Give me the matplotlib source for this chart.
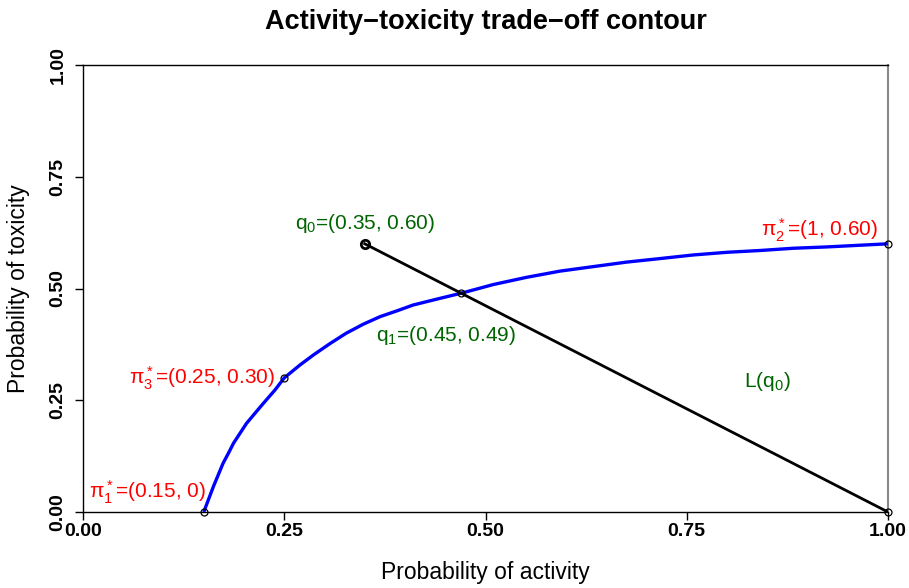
import matplotlib
matplotlib.use("Agg")
import matplotlib.pyplot as plt

plt.rcParams['font.family'] = ['Liberation Sans', 'DejaVu Sans']
plt.rcParams['mathtext.fontset'] = 'custom'
plt.rcParams['mathtext.rm'] = 'Liberation Sans'
plt.rcParams['mathtext.it'] = 'Liberation Sans'
plt.rcParams['mathtext.bf'] = 'Liberation Sans:bold'

# contour points
contour_x = [0.15, 0.162, 0.168, 0.174, 0.1805, 0.187, 0.195, 0.203, 0.2137, 0.224,
             0.2385, 0.25, 0.2696, 0.286, 0.307, 0.327, 0.348, 0.369, 0.390, 0.41,
             0.439, 0.471, 0.51, 0.551, 0.593, 0.634, 0.675, 0.717, 0.758, 0.80,
             0.841, 0.882, 0.924, 1.0]
contour_y = [0.0, 0.057, 0.083, 0.109, 0.131, 0.154, 0.176, 0.198, 0.221, 0.243,
             0.273, 0.30, 0.329, 0.351, 0.377, 0.400, 0.420, 0.437, 0.450, 0.463,
             0.476, 0.490, 0.509, 0.525, 0.539, 0.549, 0.559, 0.567, 0.575, 0.581,
             0.585, 0.590, 0.593, 0.60]

# design points
pi_x = [0.15, 1.0, 0.25]
pi_y = [0.0, 0.60, 0.30]
pi_labels = [r'$\pi_1^*$=(0.15, 0)', r'$\pi_2^*$=(1, 0.60)', r'$\pi_3^*$=(0.25, 0.30)']

q0 = (0.35, 0.60)
q1 = (0.47, 0.49)
line_end = (1.0, 0.0)
q0_label = r'q$_0$=(0.35, 0.60)'
q1_label = r'q$_1$=(0.45, 0.49)'
L_label = r'L(q$_0$)'

fig = plt.figure(figsize=(9.09, 5.88), dpi=100)
ax = fig.add_axes([83/909, 1-512/588, (888-83)/909, (512-65)/588])
ax.set_xlim(0, 1)
ax.set_ylim(0, 1)

ax.plot(contour_x, contour_y, color='blue', lw=2.4, solid_capstyle='butt',
        solid_joinstyle='round', zorder=3)
ax.plot([q0[0], line_end[0]], [q0[1], line_end[1]], color='black', lw=2.0, zorder=3)

ax.plot(pi_x, pi_y, 'o', ms=5, mfc='none', mec='black', mew=0.9, zorder=4, clip_on=False)
ax.plot([q1[0], line_end[0]], [q1[1], line_end[1]], 'o', ms=5, mfc='none', mec='black',
        mew=0.9, zorder=4, clip_on=False)
ax.plot([q0[0]], [q0[1]], 'o', ms=6, mfc='none', mec='black', mew=2.0, zorder=4)

red = '#FF0000'
green = '#006400'
fs = 15
ax.text(0.153, 0.045, pi_labels[0], color=red, fontsize=fs, ha='right', va='center')
ax.text(0.988, 0.630, pi_labels[1], color=red, fontsize=fs, ha='right', va='center')
ax.text(0.238, 0.30, pi_labels[2], color=red, fontsize=fs, ha='right', va='center')
ax.text(0.35, 0.646, q0_label, color=green, fontsize=fs, ha='center', va='center')
ax.text(0.451, 0.394, q1_label, color=green, fontsize=fs, ha='center', va='center')
ax.text(0.85, 0.293, L_label, color=green, fontsize=fs, ha='center', va='center')

ticks = [0, 0.25, 0.5, 0.75, 1.0]
tick_labels = ['0.00', '0.25', '0.50', '0.75', '1.00']
ax.set_xticks(ticks)
ax.set_xticklabels(tick_labels, fontsize=14, fontweight='bold')
ax.set_yticks(ticks)
ax.set_yticklabels(tick_labels, fontsize=14, fontweight='bold', rotation=90, va='center')
ax.tick_params(axis='x', direction='out', length=6, width=1, pad=2)
ax.tick_params(axis='y', direction='out', length=6, width=1, pad=6)
for s in ax.spines.values():
    s.set_linewidth(1)
ax.spines['right'].set_color('#888888')
ax.spines['right'].set_linewidth(1.5)

ax.set_xlabel('Probability of activity', fontsize=16.5)
ax.xaxis.set_label_coords(0.5, (512-573)/447)
ax.xaxis.label.set_va('center')
ax.set_ylabel('Probability of toxicity', fontsize=16.5)
ax.yaxis.set_label_coords((19-83)/805, 0.5)
ax.yaxis.label.set_va('center')
ax.text(0.5, (512-22)/447, 'Activity\u2212toxicity trade\u2212off contour', fontsize=19.5,
        fontweight='bold', ha='center', va='center', transform=ax.transAxes)

fig.savefig('out.png', dpi=100)
